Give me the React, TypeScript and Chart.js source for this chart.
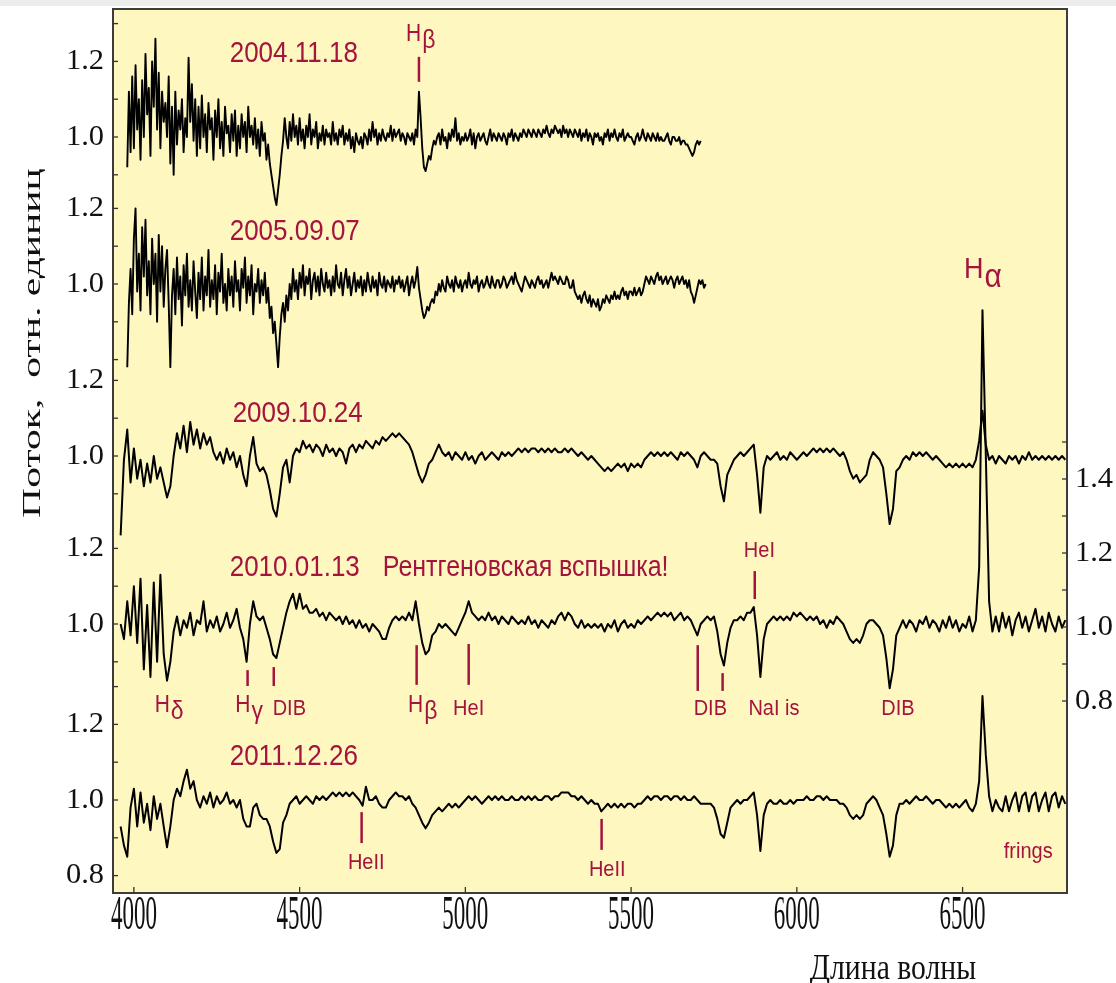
import React, { useEffect, useRef } from "react";
import { Chart, registerables } from "chart.js";

Chart.register(...registerables);

// ---------- data ----------
const DATES = ["2004.11.18", "2005.09.07", "2009.10.24", "2010.01.13", "2011.12.26"];
const STARTS = [3980, 3980, 3960, 3960, 3960]; // first wavelength of each spectrum
const STEPS = [5, 5, 10, 10, 10]; // Angstrom between samples

const S1 = [
  0.92, 1.12, 0.96, 1.16,
  0.97, 1.19, 1.02, 1.10, 0.94, 1.15, 1.00, 1.22, 1.06, 1.13, 0.95, 1.20, 1.08, 1.26, 1.02, 1.17, 0.97, 1.12, 1.04, 1.09,
  1.00, 1.16, 0.93, 1.08, 0.90, 1.12, 0.98, 1.07, 1.02, 1.10, 0.96, 1.05, 1.00, 1.21, 1.04, 1.14, 0.99, 1.10, 0.95, 1.08,
  0.97, 1.11, 1.00, 1.06, 0.96, 1.09, 1.02, 1.05, 0.94, 1.07, 1.00, 1.10, 0.97, 1.04, 0.95, 1.08, 1.01, 1.03, 0.96, 1.06,
  0.99, 1.07, 0.95, 1.03, 0.97, 1.06, 1.00, 1.04, 0.96, 1.08, 1.00, 1.03, 0.98, 1.05, 0.97, 1.02, 0.95, 1.04, 0.99, 1.01,
  0.94, 0.98, 0.93, 0.90, 0.87, 0.84, 0.82, 0.86, 0.90, 0.95, 0.99, 1.05, 1.00, 0.97, 1.04, 0.99, 1.06, 1.00, 1.03, 0.98,
  1.05, 0.99, 1.02, 0.97, 1.03, 1.00, 1.06, 0.98, 1.02, 1.00, 1.04, 0.97, 1.01, 0.99, 1.03, 0.98, 1.02, 1.00, 1.01, 0.98,
  1.04, 0.99, 1.01, 0.98, 1.02, 1.00, 1.03, 0.98, 1.01, 0.99, 1.02, 0.97, 1.00, 0.96, 1.01, 0.99, 0.98, 1.00, 0.97, 1.01,
  1.00, 0.98, 1.02, 0.99, 1.04, 1.00, 1.02, 0.98, 1.01, 0.99, 1.02, 1.00, 0.99, 1.01, 1.00, 1.03, 0.99, 1.02, 1.00, 1.01,
  1.02, 0.99, 1.01, 1.00, 0.98, 1.01, 1.00, 0.99, 1.01, 0.98, 1.02, 1.00, 1.12, 1.05, 0.97, 0.92, 0.91, 0.93, 0.95, 0.94,
  0.97, 0.99, 0.98, 1.00, 1.01, 0.98, 1.02, 0.99, 1.00, 0.97, 1.01, 0.99, 1.02, 1.00, 1.05, 0.99, 1.01, 0.98, 1.00, 0.99,
  1.01, 0.99, 1.00, 1.02, 0.98, 1.01, 0.97, 1.00, 1.01, 0.99, 1.00, 1.01, 0.99, 0.98, 1.00, 1.02, 0.99, 1.01, 1.00, 0.99,
  1.01, 1.00, 0.99, 1.01, 1.00, 0.98, 1.01, 1.00, 1.02, 0.99, 1.01, 1.00, 0.99, 1.01, 1.00, 1.02, 1.01, 1.00, 1.02, 1.01,
  1.00, 1.02, 1.01, 1.00, 1.02, 1.01, 1.00, 1.02, 1.01, 1.03, 1.01, 1.00, 1.02, 1.01, 1.03, 1.02, 1.01, 1.02, 1.00, 1.03,
  1.01, 1.02, 1.00, 1.02, 1.01, 1.00, 1.02, 1.01, 1.00, 1.02, 0.99, 1.01, 1.00, 1.02, 0.99, 1.01, 1.00, 0.98, 1.01, 1.00,
  1.01, 0.99, 1.00, 0.98, 1.01, 1.00, 1.02, 0.99, 1.01, 1.00, 1.02, 1.00, 0.99, 1.01, 1.00, 1.02, 0.99, 1.00, 1.01, 1.00,
  1.00, 0.99, 0.98, 1.00, 1.01, 0.99, 1.00, 1.02, 1.00, 0.99, 1.01, 1.00, 0.99, 1.01, 1.00, 0.99, 1.01, 0.99, 1.00, 0.99,
  0.99, 1.00, 1.01, 0.99, 0.98, 1.00, 1.00, 0.99, 0.99, 1.00, 0.98, 0.99, 0.99, 0.98, 0.98, 0.97, 0.96, 0.95, 0.96, 0.98,
  0.99, 0.98, 0.99,
];

const S2 = [
  0.78, 0.95, 1.04, 0.92,
  1.12, 1.20, 0.98, 1.08, 0.93, 1.15, 1.02, 1.17, 0.97, 1.06, 0.92, 1.12, 1.00, 1.08, 0.90, 1.13, 0.98, 1.10, 0.94, 1.04,
  1.09, 0.95, 0.78, 0.97, 1.04, 0.92, 1.07, 0.96, 1.02, 0.89, 1.05, 0.97, 1.08, 0.94, 1.01, 0.93, 1.06, 0.98, 0.91, 1.03,
  0.96, 1.07, 0.93, 1.02, 0.97, 1.09, 0.94, 1.01, 0.96, 1.05, 0.92, 1.03, 0.98, 1.08, 0.95, 1.00, 0.93, 1.04, 0.97, 1.02,
  0.94, 1.06, 0.98, 1.01, 0.93, 1.04, 0.99, 1.07, 0.95, 1.02, 0.97, 1.05, 0.92, 1.00, 0.98, 1.04, 0.95, 1.01, 0.97, 1.03,
  0.95, 0.99, 0.91, 0.94, 0.87, 0.90, 0.84, 0.78, 0.86, 0.92, 0.95, 0.90, 0.97, 0.93, 1.00, 0.96, 1.04, 0.98, 1.01, 0.96,
  1.03, 0.99, 1.05, 0.97, 1.02, 1.00, 1.04, 0.96, 1.01, 1.03, 0.98, 1.02, 0.97, 1.04, 1.00, 0.98, 1.03, 0.99, 1.01, 0.97,
  1.02, 0.98, 1.05, 1.00, 0.99, 1.03, 0.97, 1.01, 1.04, 0.99, 1.02, 0.97, 1.00, 1.03, 0.98, 1.01, 0.99, 1.02, 0.97, 1.01,
  0.98, 1.03, 1.00, 0.98, 1.02, 0.99, 1.01, 0.97, 1.03, 1.00, 0.99, 1.02, 0.98, 1.01, 1.00, 0.99, 1.02, 0.98, 1.01, 1.00,
  1.02, 0.99, 1.01, 0.98, 1.00, 1.02, 0.97, 1.00, 1.02, 0.99, 1.01, 1.045, 0.99, 0.96, 0.93, 0.91, 0.92, 0.94, 0.93, 0.95,
  0.96, 0.95, 0.98, 0.97, 1.00, 0.98, 1.01, 0.99, 0.98, 1.02, 1.00, 0.99, 1.01, 0.98, 1.02, 1.00, 0.99, 1.01, 0.98, 1.00,
  1.01, 0.99, 1.03, 1.00, 0.99, 1.01, 1.00, 1.02, 0.98, 1.00, 1.01, 0.99, 1.00, 1.02, 1.00, 0.99, 1.02, 1.00, 0.99, 1.01,
  1.01, 0.99, 1.00, 1.02, 1.01, 0.99, 1.00, 1.01, 1.02, 1.00, 1.03, 1.01, 1.00, 0.99, 0.98, 1.00, 1.02, 1.01, 1.00, 0.99,
  1.01, 1.00, 0.99, 1.01, 1.02, 1.00, 1.01, 0.99, 1.00, 1.01, 0.99, 1.01, 1.03, 1.01, 1.02, 1.01, 1.00, 1.02, 1.01, 1.00,
  1.00, 1.02, 1.01, 0.99, 0.99, 1.01, 0.98, 0.97, 0.96, 0.97, 0.95, 0.97, 0.98, 0.96, 0.95, 0.97, 0.94, 0.96, 0.95, 0.94,
  0.96, 0.93, 0.94, 0.96, 0.95, 0.97, 0.96, 0.95, 0.97, 0.96, 0.98, 0.96, 0.97, 0.96, 0.98, 0.99, 0.97, 0.98, 0.96, 0.98,
  0.98, 0.97, 0.99, 0.97, 0.98, 0.99, 0.97, 0.98, 1.00, 1.02, 1.01, 1.00, 1.02, 1.01, 1.00, 1.02, 1.03, 1.01, 1.02, 1.00,
  1.01, 1.02, 1.00, 1.01, 1.02, 1.01, 0.99, 1.01, 1.02, 1.00, 1.01, 1.02, 1.00, 1.01, 0.99, 1.01, 0.98, 0.97, 0.95, 0.97,
  0.99, 1.01, 1.00, 1.01, 0.99, 1.00,
];

const S3 = [
  0.79, 0.99, 1.07, 0.93,
  1.02, 0.94, 0.99, 0.92, 0.98, 0.93, 1.00, 0.94, 0.97, 0.93,
  0.89, 0.92, 1.00, 1.06, 1.02, 1.08, 1.01, 1.09, 1.03, 1.07,
  1.02, 1.06, 1.03, 1.05, 1.01, 0.99, 1.01, 0.98, 1.02, 0.99,
  1.01, 0.97, 1.00, 0.95, 0.92, 1.00, 1.05, 0.98, 0.96, 0.97,
  0.95, 0.91, 0.86, 0.84, 0.90, 0.97, 0.99, 0.93, 1.00, 1.02,
  1.01, 1.04, 1.02, 1.03, 1.01, 1.03, 1.02, 1.00, 1.03, 1.01,
  1.02, 1.00, 1.02, 1.01, 0.98, 1.02, 1.03, 1.01, 1.03, 1.02,
  1.04, 1.03, 1.02, 1.04, 1.03, 1.05, 1.04, 1.05, 1.06, 1.05,
  1.06, 1.05, 1.04, 1.03, 1.01, 0.98, 0.95, 0.93, 0.95, 0.98,
  0.99, 1.01, 1.03, 1.01, 1.00, 1.01, 0.99, 1.01, 1.00, 0.99,
  1.01, 0.99, 1.00, 0.98, 1.00, 1.01, 0.99, 1.00, 1.01, 1.00,
  0.99, 1.01, 1.00, 1.01, 1.00, 1.01, 1.02, 1.01, 1.02, 1.01,
  1.02, 1.02, 1.01, 1.02, 1.01, 1.02, 1.01, 1.02, 1.01, 1.01,
  1.02, 1.01, 1.02, 1.01, 1.00, 1.01, 1.00, 0.99, 1.00, 0.99,
  0.98, 0.97, 0.96, 0.97, 0.96, 0.97, 0.98, 0.97, 0.98, 0.96,
  0.98, 0.97, 0.98, 0.97, 0.99, 1.00, 1.01, 1.00, 1.01, 1.00,
  1.01, 1.00, 1.01, 1.00, 0.99, 1.01, 1.00, 1.01, 1.00, 0.99,
  0.97, 1.00, 1.01, 1.00, 0.99, 0.99, 0.98, 0.92, 0.88, 0.95,
  0.97, 0.99, 1.00, 1.01, 1.00, 1.01, 1.02, 1.03, 0.95, 0.85,
  0.97, 1.00, 0.99, 1.00, 1.01, 0.99, 1.00, 0.99, 1.01, 1.00,
  0.99, 1.00, 1.01, 1.00, 1.01, 1.02, 1.01, 1.02, 1.01, 1.02,
  1.01, 1.02, 1.01, 1.00, 1.01, 0.99, 0.96, 0.94, 0.95, 0.93,
  0.94, 0.95, 0.99, 1.01, 1.00, 0.99, 0.97, 0.90, 0.82, 0.86,
  0.96, 0.97, 0.99, 1.00, 0.99, 1.01, 1.00, 1.01, 1.00, 1.01,
  1.00, 0.99, 1.00, 0.99, 0.98, 0.97, 0.98, 0.97, 0.98, 0.97,
  0.98, 0.97, 0.98, 0.97, 0.99, 1.04, 1.12, 1.03, 0.99, 1.00,
  0.98, 1.00, 0.99, 0.98, 1.00, 0.99, 1.00, 0.98, 1.00, 0.99,
  1.01, 0.99, 1.00, 0.99, 1.00, 0.99, 1.00, 0.99, 1.00, 0.99,
  1.00, 0.99,
];

const S4 = [
  1.00, 0.96, 1.06, 0.97,
  1.10, 0.95, 1.12, 0.88, 1.05, 0.86, 1.11, 0.90, 1.13, 0.92,
  0.85, 0.90, 0.98, 1.02, 0.97, 1.01, 0.99, 1.03, 0.97, 1.01,
  1.00, 1.06, 0.98, 1.01, 0.99, 1.02, 0.98, 1.00, 1.03, 0.99,
  1.01, 1.04, 0.99, 0.96, 0.90, 1.00, 1.06, 1.02, 1.01, 1.02,
  0.99, 0.96, 0.92, 0.91, 0.95, 0.99, 1.03, 1.06, 1.08, 1.04,
  1.08, 1.04, 1.05, 1.03, 1.03, 1.04, 1.02, 1.03, 1.01, 1.03,
  1.02, 1.01, 1.02, 1.00, 1.02, 1.00, 1.01, 0.99, 1.01, 0.99,
  1.00, 0.98, 1.00, 0.99, 0.98, 0.96, 0.96, 0.99, 1.01, 1.02,
  1.01, 1.02, 1.01, 1.03, 1.01, 1.06, 1.00, 0.95, 0.92, 0.93,
  0.97, 0.98, 1.00, 0.99, 1.00, 0.99, 0.98, 0.97, 0.99, 1.01,
  1.03, 1.06, 1.03, 1.02, 1.01, 1.02, 1.01, 1.03, 1.01, 1.02,
  1.00, 1.02, 1.01, 1.00, 1.02, 1.01, 1.00, 1.01, 1.00, 1.02,
  1.00, 1.01, 0.99, 1.01, 1.00, 0.99, 1.01, 1.00, 1.02, 1.03,
  1.01, 1.03, 1.02, 1.00, 0.99, 1.01, 0.99, 1.00, 0.99, 1.00,
  0.99, 1.00, 0.98, 1.00, 0.99, 1.01, 0.98, 1.00, 1.01, 0.99,
  1.00, 0.99, 1.01, 1.00, 1.01, 1.02, 1.01, 1.02, 1.03, 1.02,
  1.03, 1.02, 1.03, 1.01, 1.02, 1.03, 1.01, 1.02, 1.01, 0.99,
  0.97, 1.00, 1.01, 1.02, 1.01, 1.02, 0.98, 0.92, 0.89, 0.95,
  0.99, 1.01, 1.01, 1.02, 1.01, 1.03, 1.03, 1.045, 0.97, 0.86,
  0.96, 1.00, 1.01, 1.02, 1.01, 1.02, 1.01, 1.02, 1.01, 1.03,
  1.02, 1.03, 1.02, 1.01, 1.02, 1.01, 1.02, 1.00, 1.01, 0.99,
  1.01, 1.00, 1.02, 1.01, 1.00, 0.98, 0.96, 0.95, 0.96, 0.95,
  0.97, 1.00, 1.01, 1.01, 1.00, 0.99, 0.97, 0.91, 0.83, 0.88,
  0.97, 0.99, 1.01, 0.99, 1.01, 1.00, 0.98, 1.01, 1.00, 1.02,
  0.99, 1.01, 1.00, 0.98, 1.01, 0.99, 1.02, 0.99, 1.01, 0.98,
  1.00, 0.99, 1.02, 0.98, 1.01, 1.15, 1.83, 1.45, 1.06, 0.98,
  1.02, 0.98, 1.03, 0.99, 1.02, 0.97, 1.01, 1.03, 0.99, 1.02,
  0.98, 1.01, 1.04, 0.99, 1.02, 0.98, 1.03, 1.00, 0.98, 1.02,
  0.99, 1.01,
];

const S5 = [
  0.93, 0.88, 0.85, 0.98,
  1.03, 0.93, 1.02, 0.94, 0.99, 0.92, 1.01, 0.95, 0.99, 0.93,
  0.875, 0.93, 1.00, 1.03, 1.01, 1.05, 1.08, 1.03, 1.05, 1.00,
  0.98, 1.01, 0.99, 1.02, 0.98, 1.01, 0.99, 1.00, 1.02, 0.99,
  1.00, 0.98, 1.00, 0.95, 0.93, 0.93, 0.98, 0.99, 0.96, 0.95,
  0.95, 0.93, 0.89, 0.86, 0.87, 0.94, 0.96, 0.99, 1.00, 1.01,
  0.99, 1.00, 1.01, 1.00, 0.99, 1.01, 1.00, 1.01, 1.00, 1.01,
  1.02, 1.01, 1.02, 1.01, 1.02, 1.01, 1.02, 1.01, 1.00, 0.985,
  1.035, 1.00, 1.00, 1.01, 0.99, 0.98, 0.98, 1.00, 1.01, 1.02,
  1.01, 1.01, 1.00, 1.01, 0.99, 0.98, 0.96, 0.94, 0.925, 0.94,
  0.96, 0.97, 0.98, 0.97, 0.98, 0.99, 0.98, 0.99, 0.98, 0.99,
  1.00, 1.01, 1.00, 1.01, 1.00, 0.99, 1.00, 1.01, 1.00, 1.01,
  1.00, 1.01, 1.00, 1.00, 1.01, 1.00, 1.00, 1.01, 1.00, 1.01,
  1.00, 1.01, 1.00, 1.00, 1.01, 1.01, 1.00, 1.01, 1.01, 1.02,
  1.02, 1.02, 1.01, 1.01, 1.00, 1.01, 1.00, 0.99, 1.00, 0.99,
  0.99, 0.97, 0.98, 0.99, 0.98, 0.99, 0.98, 0.99, 0.98, 0.99,
  0.99, 0.98, 0.99, 0.99, 1.00, 1.01, 1.00, 1.01, 1.01, 1.00,
  1.01, 1.01, 1.00, 1.01, 1.01, 1.00, 1.01, 1.00, 1.00, 1.01,
  1.00, 0.99, 0.99, 0.99, 0.99, 0.98, 0.95, 0.91, 0.90, 0.94,
  0.98, 0.99, 1.00, 0.99, 1.00, 1.00, 1.01, 1.02, 0.96, 0.865,
  0.96, 0.99, 1.00, 0.99, 0.99, 1.00, 0.99, 0.99, 1.00, 0.99,
  1.00, 1.00, 1.00, 1.01, 1.00, 1.00, 1.01, 1.01, 1.00, 1.01,
  1.00, 1.00, 1.00, 0.99, 0.99, 0.98, 0.96, 0.95, 0.96, 0.95,
  0.96, 0.99, 1.00, 1.01, 1.00, 0.98, 0.96, 0.91, 0.85, 0.88,
  0.96, 0.99, 0.99, 1.00, 0.99, 1.00, 1.01, 1.00, 1.00, 1.01,
  1.00, 0.99, 1.00, 1.00, 0.99, 0.98, 0.99, 0.98, 0.99, 0.98,
  0.99, 1.00, 0.98, 0.97, 0.99, 1.05, 1.275, 1.12, 1.01, 0.97,
  1.00, 0.98, 0.97, 1.01, 0.97, 1.00, 1.02, 0.97, 1.01, 1.02,
  0.97, 1.01, 1.02, 0.97, 1.00, 1.02, 0.97, 1.01, 1.02, 0.98,
  1.01, 0.99,
];

const SPECTRA = [S1, S2, S3, S4, S5];
// vertical stacking offset of each spectrum (added to its flux)
const OFFSETS = [1.75397, 1.36508, 0.91005, 0.46561, 0];

const X_MIN = 3937;
const X_MAX = 6815;
const Y_MIN = 0.75397;
const Y_MAX = 3.09259;
const YR_MIN = 0.28108;
const YR_MAX = 2.67027;

const X_TICKS = [4000, 4500, 5000, 5500, 6000, 6500];
const LEFT_TICKS = [
  [1.3, 1.2, 1.1, 1.0, 0.9],
  [1.2, 1.1, 1.0, 0.9, 0.8],
  [1.2, 1.1, 1.0, 0.9],
  [1.2, 1.1, 1.0, 0.9],
  [1.3, 1.2, 1.1, 1.0, 0.9, 0.8],
];
const LEFT_LABELS = [
  ["1.2", "1.0"],
  ["1.2", "1.0"],
  ["1.2", "1.0"],
  ["1.2", "1.0"],
  ["1.2", "1.0", "0.8"],
];
const RIGHT_TICKS = [1.5, 1.4, 1.3, 1.2, 1.1, 1.0, 0.9, 0.8];
const RIGHT_LABELS = ["1.4", "1.2", "1.0", "0.8"];

const Y_TITLE = "Поток,  отн. единиц";
const X_TITLE = "Длина волны";

// date captions: [lambda, spectrum, flux]
const DATE_POS = [
  [4289, 0, 1.22],
  [4289, 1, 1.138],
  [4298, 2, 1.111],
  [4289, 3, 1.148],
  [4289, 4, 1.114],
];
const FLARE_TEXT = "Рентгеновская вспышка!";
const FLARE_POS = [4751, 3, 1.148];

// line markers: lambda, spectrum, flux from, flux to
const LINE_MARKS = [
  [4860, 0, 1.146, 1.212],
  [4343, 3, 0.836, 0.878],
  [4422, 3, 0.836, 0.886],
  [4853, 3, 0.839, 0.944],
  [5010, 3, 0.839, 0.947],
  [5701, 3, 0.823, 0.944],
  [5776, 3, 0.823, 0.870],
  [5873, 3, 1.066, 1.140],
  [4687, 4, 0.886, 0.968],
  [5411, 4, 0.868, 0.950],
];

// line labels: text, greek suffix, lambda, spectrum, flux, font size
const LINE_LABELS: [string, string, number, number, number, number][] = [
  ["H", "β", 4864, 0, 1.27, 21],
  ["H", "α", 6560, 3, 1.937, 27],
  ["H", "δ", 4105, 3, 0.785, 21],
  ["H", "γ", 4346, 3, 0.785, 21],
  ["DIB", "", 4469, 3, 0.775, 20],
  ["H", "β", 4870, 3, 0.785, 21],
  ["HeI", "", 5010, 3, 0.775, 20],
  ["DIB", "", 5739, 3, 0.775, 20],
  ["NaI is", "", 5931, 3, 0.775, 20],
  ["DIB", "", 6305, 3, 0.775, 20],
  ["HeI", "", 5887, 3, 1.193, 20],
  ["HeII", "", 4701, 4, 0.833, 20],
  ["HeII", "", 5428, 4, 0.815, 20],
  ["frings", "", 6698, 4, 0.862, 20],
];

// ---------- styles ----------
const PLOT_BG = "#FFF7C0";
const RED = "#A3143E";
const SANS = '"Liberation Sans", Arial, sans-serif';
const SERIF = '"Liberation Serif", "Times New Roman", serif';

function drawText(
  ctx: CanvasRenderingContext2D,
  s: string,
  x: number,
  y: number,
  font: string,
  color: string,
  align: CanvasTextAlign,
  sx = 1,
  sy = 1,
  rot = 0
) {
  ctx.save();
  ctx.translate(x, y);
  if (rot) ctx.rotate(rot);
  ctx.scale(sx, sy);
  ctx.font = font;
  ctx.fillStyle = color;
  ctx.textAlign = align;
  ctx.textBaseline = "middle";
  ctx.fillText(s, 0, 0);
  ctx.restore();
}

const decor = {
  id: "decor",
  beforeDraw(chart: any) {
    const { ctx, chartArea: a, width, height } = chart;
    ctx.save();
    ctx.fillStyle = "#ffffff";
    ctx.fillRect(0, 0, width, height);
    ctx.fillStyle = "#ececec";
    ctx.fillRect(0, 0, width, 6);
    ctx.fillStyle = PLOT_BG;
    ctx.fillRect(a.left, a.top, a.right - a.left, a.bottom - a.top);
    ctx.restore();
  },
  afterDraw(chart: any) {
    const { ctx, chartArea: a } = chart;
    const xs = chart.scales.x;
    const ys = chart.scales.y;
    const yr = chart.scales.yR;
    const py = (spec: number, f: number) => ys.getPixelForValue(f + OFFSETS[spec]);
    ctx.save();

    // line markers
    ctx.strokeStyle = RED;
    ctx.lineWidth = 2.5;
    LINE_MARKS.forEach(([lam, spec, f0, f1]) => {
      const x = xs.getPixelForValue(lam);
      ctx.beginPath();
      ctx.moveTo(x, py(spec, f0));
      ctx.lineTo(x, py(spec, f1));
      ctx.stroke();
    });

    // line labels
    LINE_LABELS.forEach(([t, g, lam, spec, f, size]) => {
      const cx = xs.getPixelForValue(lam);
      const cy = py(spec, f);
      const font = `${size}px ${SANS}`;
      const gfont = `${Math.round(size * 1.1)}px ${SANS}`;
      ctx.font = font;
      const wT = ctx.measureText(t).width;
      ctx.font = gfont;
      const wG = g ? ctx.measureText(g).width : 0;
      const x0 = cx - (wT + wG) / 2;
      drawText(ctx, t, x0, cy, font, RED, "left", 1, 1.12);
      if (g) drawText(ctx, g, x0 + wT + 1, cy + size * 0.3, gfont, RED, "left", 1, 1.12);
    });

    // dates
    DATE_POS.forEach(([lam, spec, f], i) => {
      drawText(ctx, DATES[i], xs.getPixelForValue(lam), py(spec, f), `25px ${SANS}`, RED, "left", 1.04, 1.15);
    });
    drawText(ctx, FLARE_TEXT, xs.getPixelForValue(FLARE_POS[0]), py(FLARE_POS[1], FLARE_POS[2]), `25px ${SANS}`, RED, "left", 1.0, 1.15);

    // frame
    ctx.strokeStyle = "#3c3c3c";
    ctx.lineWidth = 2;
    ctx.strokeRect(a.left, a.top, a.right - a.left, a.bottom - a.top);

    // ticks
    ctx.lineWidth = 1.3;
    ctx.strokeStyle = "#333";
    LEFT_TICKS.forEach((vals, spec) => {
      vals.forEach((v) => {
        const y = py(spec, v);
        ctx.beginPath();
        ctx.moveTo(a.left, y);
        ctx.lineTo(a.left + 5, y);
        ctx.stroke();
        const lab = v.toFixed(1);
        if (LEFT_LABELS[spec].includes(lab)) {
          drawText(ctx, lab, a.left - 9, y, `29px ${SERIF}`, "#111", "right", 1.05, 1);
        }
      });
    });
    RIGHT_TICKS.forEach((v) => {
      const y = yr.getPixelForValue(v);
      ctx.beginPath();
      ctx.moveTo(a.right - 5, y);
      ctx.lineTo(a.right, y);
      ctx.stroke();
      const lab = v.toFixed(1);
      if (RIGHT_LABELS.includes(lab)) {
        drawText(ctx, lab, a.right + 8, y, `29px ${SERIF}`, "#111", "left", 1.05, 1);
      }
    });
    X_TICKS.forEach((v) => {
      const x = xs.getPixelForValue(v);
      ctx.beginPath();
      ctx.moveTo(x, a.bottom);
      ctx.lineTo(x, a.bottom - 6);
      ctx.stroke();
      drawText(ctx, String(v), x, a.bottom + 23, `23px ${SERIF}`, "#111", "center", 1, 2.1);
    });

    // axis titles
    drawText(ctx, X_TITLE, 893, 969, `27px ${SERIF}`, "#111", "center", 1.1, 1.35);
    drawText(ctx, Y_TITLE, 33, 343, `26px ${SERIF}`, "#111", "center", 1.6, 1.0, -Math.PI / 2);

    ctx.restore();
  },
};

export default function App() {
  const ref = useRef<HTMLCanvasElement>(null);

  useEffect(() => {
    const datasets = SPECTRA.map((vals, i) => ({
      label: DATES[i],
      data: vals.map((f, k) => ({ x: STARTS[i] + k * STEPS[i], y: f + OFFSETS[i] })),
      borderColor: "#000000",
      borderWidth: i < 2 ? 1.9 : 2,
      pointRadius: 0,
      fill: false,
      tension: 0,
      borderJoinStyle: "round" as const,
    }));
    const chart = new Chart(ref.current as HTMLCanvasElement, {
      type: "line",
      data: { datasets },
      options: {
        animation: false,
        responsive: false,
        devicePixelRatio: 1,
        layout: { padding: { left: 113, right: 49, top: 9, bottom: 90 } },
        plugins: { legend: { display: false }, tooltip: { enabled: false } },
        scales: {
          x: { type: "linear", min: X_MIN, max: X_MAX, display: false },
          y: { type: "linear", min: Y_MIN, max: Y_MAX, display: false },
          yR: { type: "linear", position: "right", min: YR_MIN, max: YR_MAX, display: false },
        },
      },
      plugins: [decor],
    });
    return () => chart.destroy();
  }, []);

  return (
    <div style={{ position: "absolute", left: 0, top: 0, width: 1116, height: 983 }}>
      <canvas ref={ref} width={1116} height={983} />
    </div>
  );
}
